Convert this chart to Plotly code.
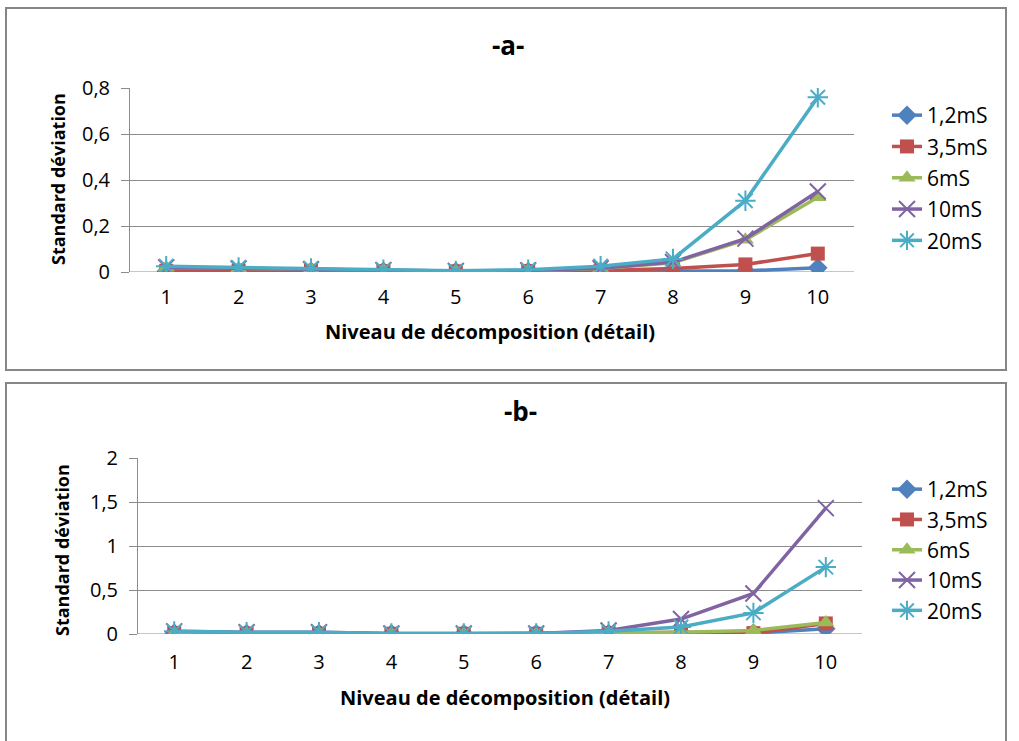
import plotly.graph_objects as go

levels = [1, 2, 3, 4, 5, 6, 7, 8, 9, 10]
series_names = ["1,2mS", "3,5mS", "6mS", "10mS", "20mS"]
colors = ["#4F81BD", "#C0504D", "#9BBB59", "#8064A2", "#4BACC6"]
symbols = ["diamond", "square", "triangle-up", "x-thin-open", "asterisk-open"]
marker_sizes = [15, 14, 15, 16, 17]

# Panel a
a_12 = [0.003, 0.003, 0.003, 0.003, 0.002, 0.002, 0.003, 0.003, 0.005, 0.018]
a_35 = [0.005, 0.005, 0.005, 0.004, 0.003, 0.004, 0.006, 0.015, 0.033, 0.08]
a_6 = [0.02, 0.015, 0.012, 0.008, 0.004, 0.006, 0.015, 0.04, 0.14, 0.325]
a_10 = [0.02, 0.015, 0.012, 0.008, 0.004, 0.007, 0.016, 0.043, 0.145, 0.35]
a_20 = [0.025, 0.02, 0.015, 0.01, 0.005, 0.01, 0.025, 0.057, 0.31, 0.76]

# Panel b
b_12 = [0.01, 0.005, 0.005, 0.003, 0.003, 0.003, 0.005, 0.005, 0.01, 0.06]
b_35 = [0.01, 0.005, 0.005, 0.003, 0.003, 0.003, 0.01, 0.02, 0.01, 0.12]
b_6 = [0.01, 0.005, 0.005, 0.003, 0.003, 0.003, 0.01, 0.02, 0.04, 0.13]
b_10 = [0.03, 0.02, 0.02, 0.005, 0.005, 0.005, 0.04, 0.17, 0.46, 1.43]
b_20 = [0.03, 0.02, 0.02, 0.005, 0.005, 0.005, 0.03, 0.08, 0.24, 0.76]

a_data = [a_12, a_35, a_6, a_10, a_20]
b_data = [b_12, b_35, b_6, b_10, b_20]

W, H = 1019, 741
FONT = "Open Sans"
GRID = "#8c8c8c"

fig = go.Figure()

def add_series(data, xa, ya, leg, grp):
    for name, vals, col, sym, ms in zip(series_names, data, colors, symbols, marker_sizes):
        open_sym = sym.endswith("open")
        fig.add_trace(go.Scatter(
            x=levels, y=vals, name=name, mode="lines+markers",
            line=dict(color=col, width=3.5),
            marker=dict(symbol=sym, size=ms, color=col,
                        line=dict(color=col, width=2 if open_sym else 0)),
            xaxis=xa, yaxis=ya, legend=leg, legendgroup=grp + name,
        ))

add_series(a_data, "x", "y", "legend", "a")
add_series(b_data, "x2", "y2", "legend2", "b")

def py(p):
    return 1 - p / H

def px(p):
    return p / W

tickfont = dict(family=FONT, size=20, color="#000000")

xcommon = dict(range=[0.5, 10.5], tickmode="array", tickvals=levels,
               ticktext=[str(v) for v in levels], showgrid=False, zeroline=False,
               showline=False, ticks="", tickfont=tickfont, automargin=False)
ycommon = dict(showgrid=True, gridcolor=GRID, gridwidth=1, zeroline=False,
               showline=True, linecolor=GRID, linewidth=1, ticks="outside",
               ticklen=8, tickcolor=GRID, tickfont=tickfont, automargin=False,
               ticklabelstandoff=7)

legfont = dict(family=FONT, size=21, color="#000000")

fig.update_layout(
    width=W, height=H, margin=dict(l=0, r=0, t=0, b=0, autoexpand=False),
    paper_bgcolor="white", plot_bgcolor="white",
    xaxis=dict(domain=[px(130), px(854)], anchor="y", ticklabelstandoff=11, **xcommon),
    yaxis=dict(domain=[py(272), py(88)], anchor="x", range=[0, 0.8],
               tickvals=[0, 0.2, 0.4, 0.6, 0.8], ticktext=["0", "0,2", "0,4", "0,6", "0,8"],
               **ycommon),
    xaxis2=dict(domain=[px(138), px(862)], anchor="y2", ticklabelstandoff=14, **xcommon),
    yaxis2=dict(domain=[py(634), py(458)], anchor="x2", range=[0, 2],
                tickvals=[0, 0.5, 1, 1.5, 2], ticktext=["0", "0,5", "1", "1,5", "2"],
                **ycommon),
    legend=dict(x=px(887), y=py(95), xanchor="left", yanchor="top",
                font=legfont, bgcolor="rgba(0,0,0,0)", tracegroupgap=1),
    legend2=dict(x=px(887), y=py(469), xanchor="left", yanchor="top",
                 font=legfont, bgcolor="rgba(0,0,0,0)", tracegroupgap=0),
    showlegend=True,
)

# baseline x-axis lines at y=0
fig.add_shape(type="line", xref="x domain", yref="y", x0=0, x1=1, y0=0, y1=0,
              line=dict(color=GRID, width=1), layer="below")
fig.add_shape(type="line", xref="x2 domain", yref="y2", x0=0, x1=1, y0=0, y1=0,
              line=dict(color=GRID, width=1), layer="below")

# panel borders
fig.add_shape(type="rect", xref="paper", yref="paper", x0=px(6), x1=px(1006), y0=py(370), y1=py(8),
              line=dict(color="#868686", width=2), fillcolor="rgba(0,0,0,0)")
fig.add_shape(type="rect", xref="paper", yref="paper", x0=px(6), x1=px(1006), y0=py(745), y1=py(383),
              line=dict(color="#868686", width=2), fillcolor="rgba(0,0,0,0)")

ann = dict(xref="paper", yref="paper", showarrow=False, xanchor="center", yanchor="middle")

# titles
fig.add_annotation(text="<b>-a-</b>", x=px(508), y=py(45),
                   font=dict(family=FONT, size=26, color="#000000"), **ann)
fig.add_annotation(text="<b>-b-</b>", x=px(520), y=py(411),
                   font=dict(family=FONT, size=26, color="#000000"), **ann)

# axis titles
xt_font = dict(family=FONT, size=20, color="#000000")
yt_font = dict(family=FONT, size=18, color="#000000")
fig.add_annotation(text="<b>Niveau de décomposition (détail)</b>", x=px(490), y=py(331),
                   font=xt_font, **ann)
fig.add_annotation(text="<b>Niveau de décomposition (détail)</b>", x=px(505), y=py(697),
                   font=xt_font, **ann)
fig.add_annotation(text="<b>Standard déviation</b>", textangle=-90, x=px(58), y=py(179),
                   font=yt_font, **ann)
fig.add_annotation(text="<b>Standard déviation</b>", textangle=-90, x=px(62), y=py(550),
                   font=yt_font, **ann)

fig.write_html("out.html", config={"displayModeBar": False},
               post_script="document.body.style.margin='0';")
